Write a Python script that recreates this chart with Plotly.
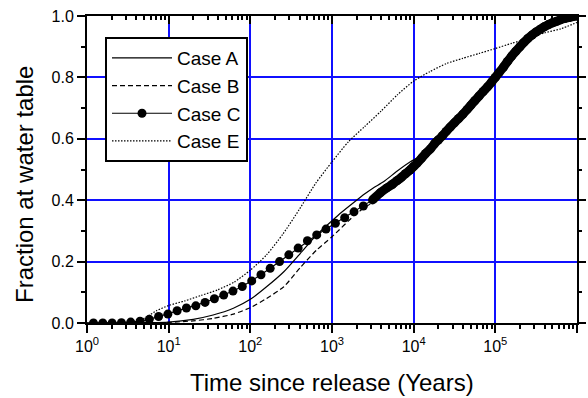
import plotly.graph_objects as go

# ---------------- data ----------------
a_years = [1, 3, 5, 10, 20, 35, 62, 100, 158, 257, 410, 650, 1000, 1300, 2000,
           2500, 3200, 4270, 6300, 9100, 12600, 16000, 20000, 31500, 50000,
           100000, 200000, 400000, 1000000]
a_frac = [0.0, 0.0, 0.001, 0.003, 0.012, 0.026, 0.048, 0.077, 0.118, 0.167, 0.227,
          0.287, 0.333, 0.36, 0.40, 0.42, 0.44, 0.46, 0.495, 0.525, 0.545, 0.567,
          0.596, 0.652, 0.709, 0.80, 0.90, 0.965, 0.999]

b_years = [1, 5, 10, 20, 35, 62, 100, 158, 257, 410, 650, 1000, 2000, 3000, 4000,
           6300, 10000, 20000, 31500, 50000, 100000, 200000, 400000, 1000000]
b_frac = [0.0, 0.0, 0.002, 0.007, 0.015, 0.029, 0.05, 0.08, 0.118, 0.181, 0.238,
          0.281, 0.357, 0.39, 0.418, 0.462, 0.508, 0.596, 0.652, 0.709, 0.80,
          0.90, 0.965, 0.998]

c_years = [1.2, 1.56, 2.03, 2.64, 3.43, 4.46, 5.79, 7.53, 9.79, 12.7, 16.5, 21.5,
           27.9, 36.3, 47.2, 61.3, 79.7, 104, 135, 175, 228, 296, 385, 500, 650,
           845, 1100, 1430, 1860, 2420, 3140, 3900, 4700, 5500, 6300, 7100, 8000,
           9000, 10000, 11000, 12500, 14000, 16000, 18000, 20000, 22500, 25000,
           28000, 31500, 35500, 40000, 45000, 50000, 56000, 63000, 71000, 80000,
           90000, 100000, 112000, 126000, 141000, 158000, 178000, 200000, 224000,
           251000, 282000, 316000, 355000, 398000, 447000, 501000, 562000, 631000,
           708000, 794000, 891000, 1000000]
c_frac = [0.0, 0.0, 0.0, 0.001, 0.003, 0.006, 0.012, 0.021, 0.029, 0.040, 0.049,
          0.056, 0.067, 0.079, 0.091, 0.104, 0.119, 0.137, 0.157, 0.178, 0.200,
          0.222, 0.244, 0.268, 0.287, 0.306, 0.325, 0.343, 0.362, 0.381, 0.401,
          0.424, 0.44, 0.452, 0.464, 0.475, 0.487, 0.498, 0.51, 0.521, 0.537,
          0.552, 0.567, 0.584, 0.596, 0.61, 0.624, 0.638, 0.652, 0.666, 0.68,
          0.695, 0.709, 0.724, 0.739, 0.754, 0.769, 0.785, 0.80, 0.817, 0.834,
          0.852, 0.869, 0.885, 0.900, 0.914, 0.927, 0.938, 0.948, 0.957, 0.965,
          0.972, 0.978, 0.983, 0.988, 0.992, 0.995, 0.998, 1.0]
c_dense_from = 30   # index from which the Case C points are so dense they form a band

e_years = [1, 3.55, 4, 5.4, 7.1, 10, 15.8, 25.1, 39.8, 63.1, 100, 158, 251, 398,
           631, 1000, 1585, 2512, 3981, 6310, 10000, 15850, 25120, 39810, 63100,
           100000, 158500, 251200, 398100, 631000, 1000000]
e_frac = [0.0, 0.0, 0.003, 0.02, 0.04, 0.057, 0.072, 0.09, 0.108, 0.133, 0.172,
          0.222, 0.29, 0.37, 0.455, 0.525, 0.59, 0.64, 0.69, 0.743, 0.788, 0.819,
          0.845, 0.862, 0.878, 0.894, 0.911, 0.926, 0.945, 0.958, 0.979]

x_tick_vals = [1, 10, 100, 1000, 10000, 100000, 1000000]
x_tick_text = ["10<sup>0</sup>", "10<sup>1</sup>", "10<sup>2</sup>", "10<sup>3</sup>",
               "10<sup>4</sup>", "10<sup>5</sup>", "10<sup>6</sup>"]
y_tick_vals = [0.0, 0.2, 0.4, 0.6, 0.8, 1.0]

x_title = "Time since release (Years)"
y_title = "Fraction at water table"

# ---------------- figure ----------------
FONT = "Liberation Sans, Arial, sans-serif"
GRID = "#1010FF"
minor_x = [m * d for d in x_tick_vals[:-1] for m in range(2, 10)]
minor_y = [0.1, 0.3, 0.5, 0.7, 0.9]

fig = go.Figure()
fig.add_trace(go.Scatter(x=a_years, y=a_frac, name="Case A", mode="lines",
                         line=dict(color="black", width=1.2, shape="spline", smoothing=0.6)))
fig.add_trace(go.Scatter(x=b_years, y=b_frac, name="Case B", mode="lines",
                         line=dict(color="black", width=1.2, dash="5px,3px",
                                   shape="spline", smoothing=0.6)))
# dense part of Case C: overlapping dots merge into a solid band
fig.add_trace(go.Scatter(x=c_years[c_dense_from:], y=c_frac[c_dense_from:],
                         mode="lines", showlegend=False, hoverinfo="skip",
                         line=dict(color="black", width=9, shape="spline", smoothing=0.5)))
fig.add_trace(go.Scatter(x=c_years, y=c_frac, name="Case C", mode="lines+markers",
                         line=dict(color="black", width=1.2),
                         marker=dict(color="black", size=9, symbol="circle")))
fig.add_trace(go.Scatter(x=e_years, y=e_frac, name="Case E", mode="lines",
                         line=dict(color="black", width=1.2, dash="1.5px,1.5px",
                                   shape="spline", smoothing=0.6)))
# empty helper trace so that the top / right tick axes are drawn
fig.add_trace(go.Scatter(x=[], y=[], xaxis="x2", yaxis="y2", showlegend=False,
                         hoverinfo="skip"))

fig.update_layout(
    width=588, height=398,
    margin=dict(l=87, r=11, t=16, b=75, autoexpand=False),
    paper_bgcolor="white", plot_bgcolor="white",
    font=dict(family=FONT, color="black", size=16),
    showlegend=True,
    legend=dict(x=(105 - 87) / 490, y=(323 - 37) / 307, xanchor="left", yanchor="top",
                bgcolor="white", bordercolor="black", borderwidth=2,
                font=dict(family=FONT, size=19, color="black"),
                itemwidth=60, tracegroupgap=0),
    xaxis=dict(type="log", range=[0, 6], showgrid=True, gridcolor=GRID, gridwidth=1.5,
               showline=True, linecolor="black", linewidth=2, mirror=True,
               ticks="outside", ticklen=8, tickwidth=2, tickcolor="black",
               tickvals=x_tick_vals, ticktext=x_tick_text, automargin=False,
               tickfont=dict(family=FONT, size=16, color="black"),
               minor=dict(ticks="outside", ticklen=4, tickwidth=1.5, tickcolor="black",
                          tickvals=minor_x, showgrid=False),
               zeroline=False),
    yaxis=dict(range=[0, 1], showgrid=True, gridcolor=GRID, gridwidth=1.5,
               showline=True, linecolor="black", linewidth=2, mirror=True,
               ticks="outside", ticklen=8, tickwidth=2, tickcolor="black",
               tickvals=y_tick_vals, tickformat=".1f", automargin=False,
               tickfont=dict(family=FONT, size=16, color="black"),
               minor=dict(ticks="outside", ticklen=4, tickwidth=1.5, tickcolor="black",
                          tickvals=minor_y, showgrid=False),
               zeroline=False),
    xaxis2=dict(type="log", range=[0, 6], overlaying="x", side="top", anchor="y2",
                showgrid=False, showline=False, showticklabels=False, automargin=False,
                ticks="inside", ticklen=8, tickwidth=2, tickcolor="black",
                tickvals=x_tick_vals,
                minor=dict(ticks="inside", ticklen=4, tickwidth=1.5, tickcolor="black",
                           tickvals=minor_x, showgrid=False),
                zeroline=False),
    yaxis2=dict(range=[0, 1], overlaying="y", side="right", anchor="x2",
                showgrid=False, showline=False, showticklabels=False, automargin=False,
                ticks="outside", ticklen=8, tickwidth=2, tickcolor="black",
                tickvals=y_tick_vals,
                minor=dict(ticks="outside", ticklen=4, tickwidth=1.5, tickcolor="black",
                           tickvals=minor_y, showgrid=False),
                zeroline=False),
    annotations=[
        dict(text=x_title, xref="paper", yref="paper", x=0.5, y=(323 - 382) / 307,
             xanchor="center", yanchor="middle", showarrow=False,
             font=dict(family=FONT, size=24, color="black")),
        dict(text=y_title, xref="paper", yref="paper", x=(24 - 87) / 490,
             y=(323 - 185) / 307, xanchor="center", yanchor="middle", textangle=-90,
             showarrow=False, font=dict(family=FONT, size=24, color="black")),
    ],
)

fig.write_html("out.html")
